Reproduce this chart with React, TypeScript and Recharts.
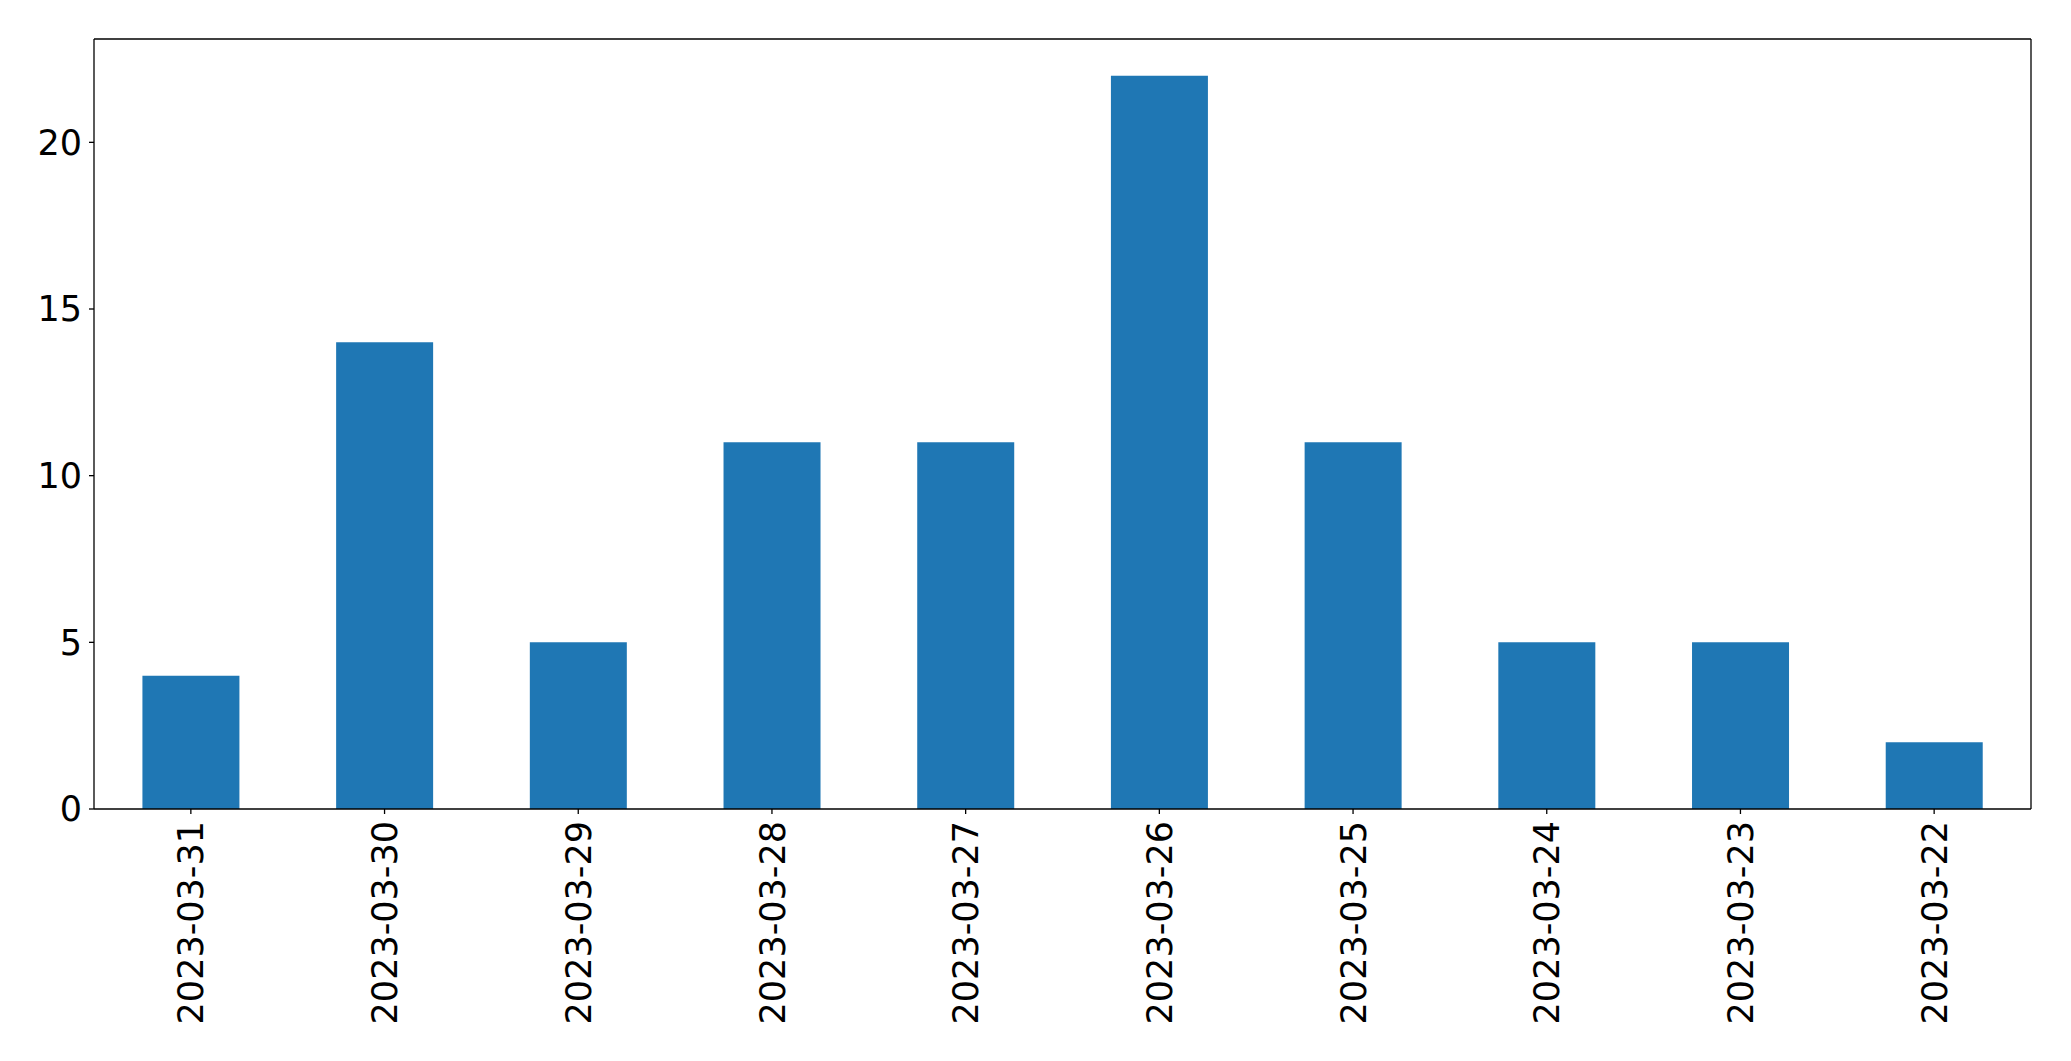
import React from "react"
import { BarChart, Bar, XAxis, YAxis } from "recharts"

// dates as they appear on the x axis (newest first)
const dates = [
  "2023-03-31",
  "2023-03-30",
  "2023-03-29",
  "2023-03-28",
  "2023-03-27",
  "2023-03-26",
  "2023-03-25",
  "2023-03-24",
  "2023-03-23",
  "2023-03-22",
]
const counts = [4, 14, 5, 11, 11, 22, 11, 5, 5, 2]
const yTicks = [0, 5, 10, 15, 20]

const data = dates.map((d, i) => ({ date: d, count: counts[i] }))

const FONT = "DejaVu Sans"

const DateTick = (props: any) => {
  const { x, y, payload } = props
  return (
    <text
      x={x}
      y={y}
      dy="0.36em"
      transform={`rotate(-90, ${x}, ${y})`}
      textAnchor="end"
      fontFamily={FONT}
      fontSize={35}
      fill="#000"
    >
      {payload.value}
    </text>
  )
}

export default function App() {
  return (
    <div style={{ position: "fixed", left: 0, top: 0, background: "#fff" }}>
      <BarChart
        width={2071}
        height={1061}
        data={data}
        barCategoryGap="25%"
        margin={{ top: 38, right: 39, bottom: 0, left: 0 }}
      >
        <XAxis
          dataKey="date"
          height={252}
          interval={0}
          tickSize={5}
          tickMargin={7}
          axisLine={{ stroke: "#000", strokeWidth: 1.3 }}
          tickLine={{ stroke: "#000", strokeWidth: 1.3 }}
          tick={<DateTick />}
        />
        <XAxis
          xAxisId="top"
          orientation="top"
          dataKey="date"
          height={1}
          tick={false}
          tickLine={false}
          axisLine={{ stroke: "#000", strokeWidth: 1.3 }}
        />
        <YAxis
          width={94}
          domain={[0, 23.1]}
          ticks={yTicks}
          tickSize={5}
          tickMargin={7}
          axisLine={{ stroke: "#000", strokeWidth: 1.3 }}
          tickLine={{ stroke: "#000", strokeWidth: 1.3 }}
          tick={{ fontFamily: FONT, fontSize: 35, fill: "#000" }}
        />
        <YAxis
          yAxisId="right"
          orientation="right"
          width={1}
          domain={[0, 23.1]}
          tick={false}
          tickLine={false}
          axisLine={{ stroke: "#000", strokeWidth: 1.3 }}
        />
        <Bar dataKey="count" fill="#1f77b4" isAnimationActive={false} />
      </BarChart>
    </div>
  )
}
